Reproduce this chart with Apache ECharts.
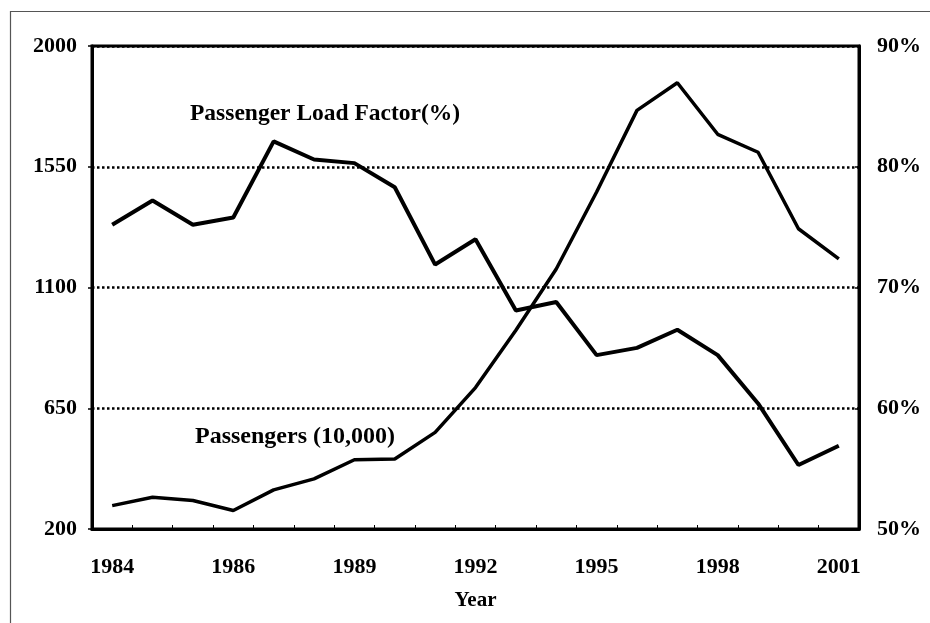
<!DOCTYPE html>
<html>
<head>
<meta charset="utf-8">
<title>Passengers and Passenger Load Factor</title>
<script src="https://cdn.jsdelivr.net/npm/echarts@6/dist/echarts.min.js"></script>
<style>
  html, body { margin: 0; padding: 0; background: #fff; }
  #chart { width: 930px; height: 623px; }
</style>
</head>
<body>
<div id="chart"></div>
<script>
// categories (one point per year) and the labels printed under the axis
const years = ["1983", "1984", "1985", "1986", "1987", "1988", "1989", "1990", "1991", "1992",
  "1993", "1994", "1995", "1996", "1997", "1998", "1999", "2000", "2001"];
const tickLabels = ["1984", "1986", "1989", "1992", "1995", "1998", "2001"];

// Passengers (10,000) - left axis
const passengers = [287, 318, 306, 269, 346, 387, 458, 461, 560, 727,
  941, 1169, 1456, 1760, 1863, 1671, 1604, 1319, 1207];

// Passenger load factor (%) - right axis
const loadFactor = [75.2, 77.2, 75.2, 75.8, 82.1, 80.6, 80.3, 78.3, 71.9, 74.0,
  68.1, 68.8, 64.4, 65.0, 66.5, 64.4, 60.4, 55.3, 56.9];

const leftTicks = [200, 2000];
const rightTicks = [50, 90];

const FONT = "Liberation Serif";

const chart = echarts.init(document.getElementById("chart"), null, { renderer: "canvas" });

const option = {
  animation: false,
  backgroundColor: "#fff",
  textStyle: { fontFamily: FONT },
  grid: {
    left: 92,
    right: 71,
    top: 46,
    bottom: 94,
    show: true,
    borderColor: "#000",
    borderWidth: 3
  },
  xAxis: {
    type: "category",
    data: years,
    boundaryGap: true,
    name: "Year",
    nameLocation: "middle",
    nameGap: 61,
    nameTextStyle: { fontFamily: FONT, fontWeight: "bold", fontSize: 21, color: "#000" },
    axisLine: { lineStyle: { color: "#000", width: 3 } },
    axisTick: { show: true, inside: true, length: 4, interval: 0, lineStyle: { color: "#000", width: 1 } },
    axisLabel: {
      interval: 2,
      margin: 27,
      color: "#000",
      fontFamily: FONT,
      fontWeight: "bold",
      fontSize: 22,
      formatter: (value, index) => tickLabels[index / 3]
    },
    splitLine: { show: false }
  },
  yAxis: [
    {
      type: "value",
      min: leftTicks[0],
      max: leftTicks[1],
      alignTicks: true,
      axisLine: { show: true, lineStyle: { color: "#000", width: 3 } },
      axisTick: { show: true, length: 4, lineStyle: { color: "#000", width: 1.5 } },
      axisLabel: {
        margin: 15,
        color: "#000",
        fontFamily: FONT,
        fontWeight: "bold",
        fontSize: 22,
        formatter: (v) => String(v)
      },
      splitLine: { show: true, lineStyle: { color: "#000", type: [2.5, 2.5], width: 2.5 } }
    },
    {
      type: "value",
      position: "right",
      min: rightTicks[0],
      max: rightTicks[1],
      interval: 10,
      axisLine: { show: true, lineStyle: { color: "#000", width: 3 } },
      axisTick: { show: true, inside: true, length: 4, lineStyle: { color: "#000", width: 1.5 } },
      axisLabel: {
        margin: 18,
        color: "#000",
        fontFamily: FONT,
        fontWeight: "bold",
        fontSize: 22,
        formatter: "{value}%"
      },
      splitLine: { show: false }
    }
  ],
  series: [
    {
      name: "Passenger Load Factor(%)",
      type: "line",
      yAxisIndex: 1,
      data: loadFactor,
      symbol: "none",
      lineStyle: { color: "#000", width: 4 },
      z: 3
    },
    {
      name: "Passengers (10,000)",
      type: "line",
      yAxisIndex: 0,
      data: passengers,
      symbol: "none",
      lineStyle: { color: "#000", width: 3.5 },
      z: 3
    }
  ],
  graphic: [
    {
      // outer frame of the figure
      type: "rect",
      shape: { x: 10.5, y: 11.5, width: 940, height: 640 },
      style: { fill: null, stroke: "#555", lineWidth: 1.2 },
      silent: true
    },
    {
      type: "text",
      left: 190,
      top: 102,
      style: { text: "Passenger Load Factor(%)", fill: "#000", font: "bold 23.5px 'Liberation Serif'" }
    },
    {
      type: "text",
      left: 195,
      top: 425,
      style: { text: "Passengers (10,000)", fill: "#000", font: "bold 24px 'Liberation Serif'" }
    }
  ]
};

chart.setOption(option);
</script>
</body>
</html>
